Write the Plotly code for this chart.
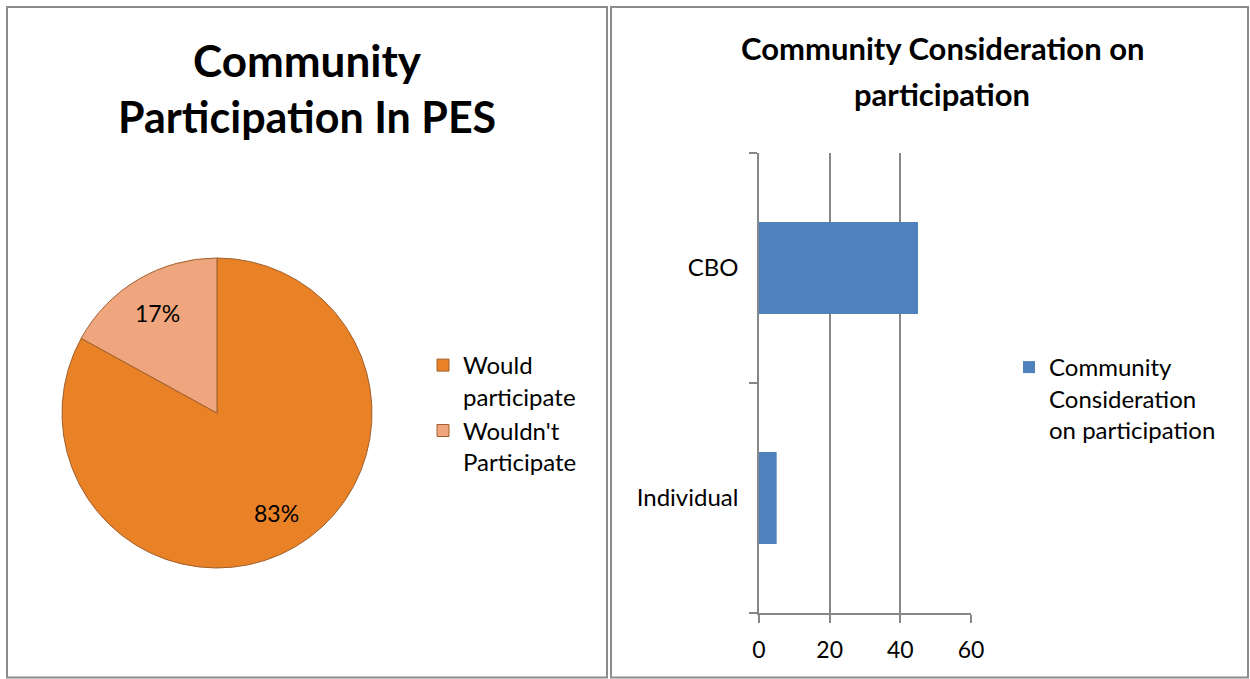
import math
import plotly.graph_objects as go

W, H = 1250, 679
FONT = "Lato"

# ---- data ----
pie_labels = ["Would<br>participate", "Wouldn't<br>Participate"]
pie_values = [83, 17]
pie_colors = ["#E98227", "#EFA57D"]
pie_title_lines = ["Community", "Participation In PES"]

bar_categories = ["Individual", "CBO"]
bar_values = [5, 45]
bar_series_name = "Community<br>Consideration<br>on participation"
bar_title_lines = ["Community Consideration on", "participation"]
x_ticks = [0, 20, 40, 60]

fig = go.Figure()

# pie domain (pixels -> paper)
pie_left, pie_right, pie_top, pie_bottom = 62, 372, 258, 568
pie_dom_x = [pie_left / W, pie_right / W]
pie_dom_y = [1 - pie_bottom / H, 1 - pie_top / H]

fig.add_trace(go.Pie(
    labels=pie_labels, values=pie_values, sort=False, direction="clockwise",
    rotation=0, textinfo="none", hoverinfo="label+percent",
    marker=dict(colors=pie_colors, line=dict(color="#A0602E", width=1)),
    domain=dict(x=pie_dom_x, y=pie_dom_y), legend="legend",
))

fig.add_trace(go.Bar(
    y=bar_categories, x=bar_values, orientation="h", name=bar_series_name,
    marker=dict(color="#4F81BD", line=dict(width=0)), width=0.4,
    showlegend=True, legend="legend2",
))

# percentage labels for the pie computed from data
cx = (pie_left + pie_right) / 2
cy = (pie_top + pie_bottom) / 2
r = (pie_right - pie_left) / 2
total = sum(pie_values)
annotations = []
cum = 0
for v in pie_values:
    mid = (cum + v / 2) / total * 2 * math.pi
    cum += v
    px = cx + 0.75 * r * math.sin(mid)
    py = cy - 0.75 * r * math.cos(mid)
    annotations.append(dict(
        x=px / W, y=1 - py / H, xref="paper", yref="paper",
        text=f"{round(v / total * 100)}%", showarrow=False,
        font=dict(family=FONT, size=23, color="#000000"),
        xanchor="center", yanchor="middle"))

# titles
title_sizes = [44, 43]
for i, t in enumerate(pie_title_lines):
    annotations.append(dict(
        x=307 / W, y=1 - (60 + i * 56) / H, xref="paper", yref="paper",
        text=f"<b>{t}</b>", showarrow=False,
        font=dict(family=FONT, size=title_sizes[i], color="#000000"),
        xanchor="center", yanchor="middle"))
for i, t in enumerate(bar_title_lines):
    annotations.append(dict(
        x=942 / W, y=1 - (48 + i * 46) / H, xref="paper", yref="paper",
        text=f"<b>{t}</b>", showarrow=False,
        font=dict(family=FONT, size=31, color="#000000"),
        xanchor="center", yanchor="middle"))

# panel borders
shapes = [
    dict(type="rect", xref="paper", yref="paper",
         x0=7 / W, x1=607 / W, y0=1 - 677.5 / H, y1=1 - 7 / H,
         line=dict(color="#8C8C8C", width=2)),
    dict(type="rect", xref="paper", yref="paper",
         x0=611 / W, x1=1248 / W, y0=1 - 677.5 / H, y1=1 - 7 / H,
         line=dict(color="#8C8C8C", width=2)),
]

axis_gray = "#878787"
fig.update_layout(
    width=W, height=H,
    margin=dict(l=0, r=0, t=0, b=0, pad=0, autoexpand=False),
    paper_bgcolor="white", plot_bgcolor="white",
    font=dict(family=FONT, size=24, color="#000000"),
    annotations=annotations, shapes=shapes,
    xaxis=dict(domain=[759 / W, 971 / W], range=[0, 60], tickvals=x_ticks,
               showgrid=True, gridcolor=axis_gray, gridwidth=1.5,
               showline=True, linecolor=axis_gray, linewidth=1.5,
               ticks="outside", ticklen=8, tickcolor=axis_gray, tickwidth=1.5,
               zeroline=False, tickfont=dict(size=23), ticklabelstandoff=8,
               automargin=False, fixedrange=True),
    yaxis=dict(domain=[1 - 613 / H, 1 - 153 / H], type="category",
               categoryorder="array", categoryarray=bar_categories,
               showline=True, linecolor=axis_gray, linewidth=1.5,
               ticks="outside", ticklen=8, tickcolor=axis_gray, tickwidth=1.5,
               tickson="boundaries", showgrid=False,
               tickfont=dict(size=24), ticklabelstandoff=14,
               automargin=False, fixedrange=True),
    bargap=0.6,
    legend=dict(x=423 / W, y=1 - 343 / H, xanchor="left", yanchor="top",
                font=dict(family=FONT, size=24), valign="top",
                bgcolor="rgba(0,0,0,0)"),
    legend2=dict(x=1009 / W, y=1 - 345 / H, xanchor="left", yanchor="top",
                 font=dict(family=FONT, size=24), valign="top",
                 bgcolor="rgba(0,0,0,0)"),
)

fig.write_html("out.html")
